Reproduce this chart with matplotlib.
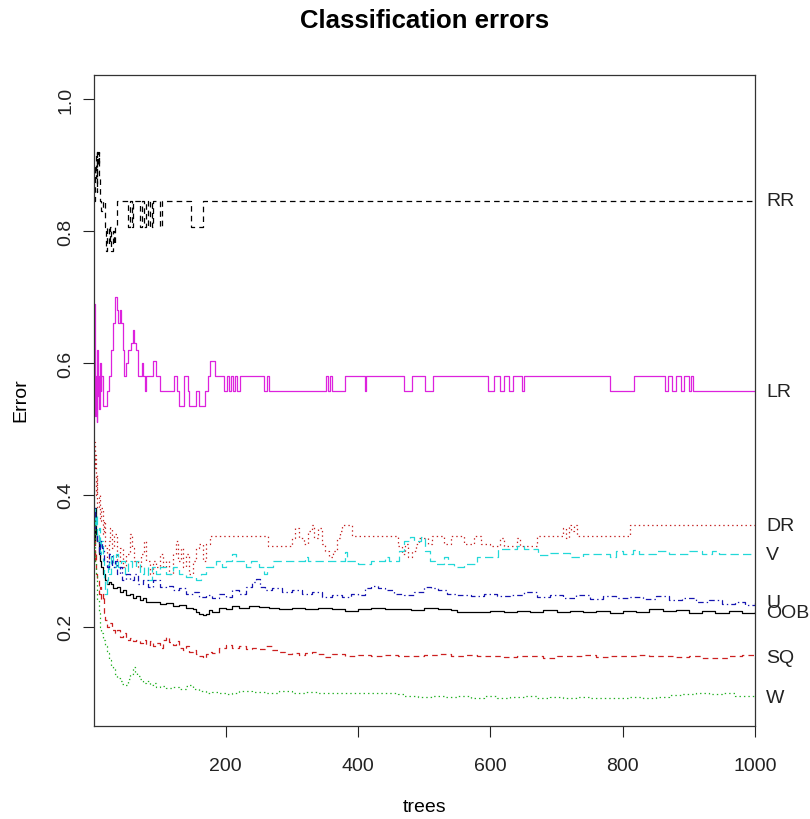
import matplotlib
matplotlib.use("Agg")
import matplotlib.pyplot as plt

plt.rcParams['font.family'] = ['Liberation Sans', 'DejaVu Sans']
plt.rcParams['lines.scale_dashes'] = False

# Datos: (arbol, error) en los puntos de cambio
rr_t = [1, 2, 3, 4, 5, 6, 7, 8, 9, 10, 12, 14, 17, 19, 21, 23, 25, 27, 29, 31, 33, 35,
        52, 55, 58, 60, 70, 73, 76, 79, 82, 85, 88, 90, 100, 104, 148, 166, 1000]
rr_v = [0.846, 0.90, 0.88, 0.92, 0.86, 0.92, 0.90, 0.92, 0.88, 0.846, 0.83, 0.846, 0.807, 0.77,
        0.807, 0.78, 0.807, 0.77, 0.80, 0.78, 0.807, 0.846,
        0.807, 0.846, 0.807, 0.846, 0.807, 0.846, 0.807, 0.846, 0.807, 0.846, 0.807, 0.846,
        0.807, 0.846, 0.807, 0.846, 0.846]

lr_t = [1, 2, 3, 4, 5, 6, 7, 8, 9, 10, 11, 12, 14, 21, 23, 26, 29, 33, 36, 38, 40, 42, 45, 47,
        50, 53, 57, 60, 62, 65, 68, 73, 75, 78, 80, 90, 95, 101, 122, 126, 129, 137, 143, 145,
        155, 160, 168, 173, 176, 184, 198, 202, 205, 208, 211, 214, 217, 222, 258, 262, 265,
        352, 355, 357, 360, 380, 410, 412, 470, 482, 501, 513, 597, 605, 615, 620, 628, 634,
        648, 651, 781, 817, 863, 868, 875, 880, 888, 893, 900, 903, 906, 1000]
lr_v = [0.69, 0.60, 0.52, 0.58, 0.51, 0.62, 0.55, 0.58, 0.53, 0.60, 0.557, 0.58, 0.535, 0.557,
        0.58, 0.62, 0.66, 0.70, 0.68, 0.66, 0.68, 0.66, 0.62, 0.58,
        0.60, 0.62, 0.63, 0.65, 0.63, 0.62, 0.58, 0.60, 0.58, 0.557, 0.58, 0.603, 0.58, 0.557,
        0.58, 0.557, 0.535, 0.58, 0.557, 0.535,
        0.557, 0.535, 0.557, 0.58, 0.603, 0.58, 0.557, 0.58, 0.557, 0.58, 0.557, 0.58, 0.557,
        0.58, 0.557, 0.58, 0.557,
        0.58, 0.557, 0.58, 0.557, 0.58, 0.557, 0.58, 0.557, 0.58, 0.557, 0.58, 0.557, 0.58,
        0.557, 0.58, 0.557, 0.58,
        0.557, 0.58, 0.557, 0.58, 0.557, 0.58, 0.557, 0.58, 0.557, 0.58, 0.557, 0.58, 0.557, 0.557]

dr_t = [1, 2, 3, 4, 5, 6, 8, 10, 12, 14, 16, 18, 20, 23, 25, 28, 31, 35, 40, 45, 50, 55, 58,
        62, 68, 72, 76, 80, 85, 90, 95, 100, 105, 110, 115, 120, 125, 128, 132, 136, 140, 145,
        150, 155, 160, 166, 170, 176, 264, 300, 305, 310, 318, 325, 330, 334, 340, 345, 350,
        356, 362, 368, 372, 376, 391, 461, 466, 471, 476, 482, 488, 492, 505, 512, 530, 540,
        560, 575, 585, 600, 615, 620, 640, 645, 670, 710, 714, 718, 722, 726, 731, 811, 1000]
dr_v = [0.48, 0.44, 0.46, 0.40, 0.43, 0.38, 0.40, 0.36, 0.38, 0.34, 0.36, 0.32, 0.30, 0.33,
        0.35, 0.32, 0.34, 0.30, 0.32, 0.29, 0.31, 0.34, 0.32,
        0.30, 0.29, 0.31, 0.33, 0.30, 0.28, 0.30, 0.29, 0.31, 0.29, 0.30, 0.28, 0.31, 0.33,
        0.30, 0.32, 0.29, 0.31, 0.28,
        0.30, 0.32, 0.325, 0.30, 0.325, 0.337, 0.322, 0.335, 0.35, 0.335, 0.325, 0.345, 0.354,
        0.335, 0.35, 0.325, 0.315,
        0.305, 0.315, 0.335, 0.345, 0.354, 0.337, 0.322, 0.31, 0.325, 0.305, 0.315, 0.325,
        0.335, 0.325, 0.337, 0.325, 0.337,
        0.325, 0.337, 0.325, 0.322, 0.335, 0.322, 0.335, 0.322, 0.337, 0.35, 0.335, 0.354,
        0.345, 0.354, 0.337, 0.354, 0.354]

v_t = [1, 2, 3, 4, 6, 8, 10, 12, 14, 16, 18, 20, 22, 24, 26, 30, 34, 38, 42, 48, 52, 58, 64,
       70, 76, 82, 88, 95, 100, 110, 120, 130, 140, 155, 162, 170, 185, 195, 200, 210, 215,
       230, 238, 250, 258, 262, 272, 310, 320, 325, 380, 384, 400, 420, 440, 446, 462, 470,
       478, 485, 495, 501, 508, 516, 530, 536, 545, 560, 580, 612, 640, 650, 672, 690, 720,
       740, 780, 790, 800, 815, 825, 850, 870, 900, 920, 935, 945, 1000]
v_v = [0.36, 0.38, 0.35, 0.37, 0.33, 0.35, 0.31, 0.33, 0.30, 0.27, 0.25, 0.27, 0.30, 0.28,
       0.31, 0.29, 0.31, 0.29, 0.30, 0.28, 0.30, 0.29, 0.30,
       0.28, 0.29, 0.27, 0.29, 0.28, 0.29, 0.28, 0.29, 0.28, 0.275, 0.27, 0.28, 0.29, 0.30,
       0.29, 0.30, 0.31, 0.30,
       0.29, 0.30, 0.29, 0.28, 0.29, 0.30, 0.30, 0.305, 0.30, 0.313, 0.30, 0.295, 0.30,
       0.305, 0.30, 0.315, 0.33,
       0.336, 0.33, 0.336, 0.315, 0.30, 0.295, 0.305, 0.295, 0.29, 0.295, 0.305, 0.318, 0.322,
       0.318, 0.308, 0.312, 0.306,
       0.31, 0.306, 0.315, 0.31, 0.317, 0.31, 0.315, 0.31, 0.315, 0.31, 0.315, 0.31, 0.31]

u_t = [1, 3, 5, 8, 10, 13, 16, 20, 24, 28, 32, 36, 40, 44, 50, 56, 62, 68, 75, 82, 90, 100,
       110, 120, 130, 140, 150, 160, 170, 180, 190, 200, 210, 220, 230, 240, 246, 252, 260,
       270, 285, 300, 315, 330, 345, 360, 375, 390, 400, 410, 420, 430, 440, 455, 470, 485,
       500, 510, 520, 535, 550, 570, 590, 610, 630, 650, 670, 690, 710, 730, 750, 770, 790,
       810, 830, 850, 870, 890, 910, 930, 950, 970, 985, 1000]
u_v = [0.38, 0.34, 0.33, 0.31, 0.33, 0.32, 0.30, 0.29, 0.31, 0.29, 0.30, 0.28, 0.29, 0.27,
       0.28, 0.27, 0.28, 0.265, 0.27, 0.26, 0.27, 0.26,
       0.262, 0.255, 0.258, 0.25, 0.252, 0.245, 0.248, 0.243, 0.25, 0.245, 0.255, 0.25, 0.26,
       0.268, 0.272, 0.26, 0.255,
       0.258, 0.252, 0.255, 0.25, 0.252, 0.245, 0.248, 0.245, 0.25, 0.248, 0.258, 0.262,
       0.258, 0.255, 0.25, 0.248, 0.252,
       0.26, 0.258, 0.255, 0.25, 0.248, 0.246, 0.25, 0.247, 0.248, 0.252, 0.245, 0.248,
       0.244, 0.248, 0.242, 0.246, 0.243,
       0.245, 0.242, 0.246, 0.24, 0.244, 0.238, 0.24, 0.235, 0.238, 0.233, 0.237]

oob_t = [1, 2, 3, 4, 6, 8, 10, 12, 14, 17, 20, 23, 27, 30, 35, 40, 45, 50, 55, 60, 65, 70, 75,
         80, 90, 100, 110, 120, 130, 140, 150, 155, 160, 165, 170, 175, 180, 190, 200, 210,
         220, 235, 250, 265, 280, 300, 320, 340, 360, 380, 400, 420, 440, 460, 480, 500, 520,
         540, 550, 580, 600, 620, 640, 660, 680, 700, 720, 740, 760, 780, 800, 820, 840, 860,
         880, 900, 920, 940, 960, 980, 1000]
oob_v = [0.36, 0.33, 0.38, 0.34, 0.33, 0.31, 0.30, 0.29, 0.28, 0.27, 0.265, 0.268, 0.264,
         0.258, 0.26, 0.252, 0.255, 0.248, 0.25, 0.244, 0.246, 0.24, 0.243,
         0.237, 0.238, 0.235, 0.236, 0.232, 0.233, 0.228, 0.226, 0.222, 0.219, 0.217, 0.219,
         0.225, 0.222, 0.228, 0.226, 0.231,
         0.229, 0.232, 0.23, 0.229, 0.227, 0.229, 0.227, 0.228, 0.226, 0.224, 0.227, 0.228,
         0.226, 0.227, 0.225, 0.228, 0.227,
         0.225, 0.222, 0.222, 0.224, 0.222, 0.223, 0.222, 0.225, 0.222, 0.224, 0.222, 0.223,
         0.221, 0.224, 0.222, 0.226, 0.223,
         0.225, 0.221, 0.223, 0.221, 0.223, 0.221, 0.222]

sq_t = [1, 2, 3, 4, 6, 8, 10, 12, 14, 16, 18, 20, 24, 28, 32, 36, 40, 45, 50, 55, 60, 65, 70,
        75, 80, 85, 90, 95, 100, 105, 110, 115, 120, 125, 130, 135, 140, 145, 150, 155, 160,
        165, 170, 175, 180, 190, 200, 210, 220, 230, 240, 250, 260, 270, 280, 290, 300, 310,
        320, 330, 340, 350, 360, 380, 400, 420, 440, 460, 480, 500, 520, 540, 560, 580, 600,
        620, 640, 660, 680, 700, 720, 740, 760, 780, 800, 820, 840, 860, 880, 900, 920, 940,
        960, 980, 1000]
sq_v = [0.33, 0.30, 0.31, 0.28, 0.27, 0.25, 0.26, 0.24, 0.25, 0.22, 0.21, 0.20, 0.205, 0.195,
        0.19, 0.195, 0.185, 0.19, 0.18, 0.183, 0.178, 0.18, 0.175,
        0.18, 0.172, 0.178, 0.17, 0.175, 0.168, 0.18, 0.185, 0.176, 0.172, 0.178, 0.168, 0.165,
        0.17, 0.162, 0.165, 0.158, 0.155,
        0.152, 0.158, 0.162, 0.16, 0.168, 0.172, 0.168, 0.17, 0.166, 0.168, 0.166, 0.17, 0.165,
        0.162, 0.158, 0.16, 0.157,
        0.16, 0.162, 0.158, 0.154, 0.158, 0.156, 0.157, 0.155, 0.157, 0.156, 0.155, 0.157,
        0.158, 0.156, 0.157, 0.155, 0.156,
        0.154, 0.156, 0.155, 0.153, 0.156, 0.155, 0.157, 0.154, 0.156, 0.155, 0.157, 0.156,
        0.155, 0.154, 0.156, 0.153, 0.152,
        0.155, 0.157, 0.153]

w_t = [1, 2, 3, 4, 5, 6, 8, 10, 12, 15, 18, 21, 24, 27, 30, 33, 36, 40, 44, 48, 52, 56, 60,
       63, 66, 70, 75, 80, 85, 90, 95, 100, 110, 120, 130, 140, 145, 150, 160, 170, 180, 190,
       200, 210, 220, 240, 260, 280, 300, 320, 340, 360, 380, 400, 420, 440, 460, 470, 490,
       510, 530, 550, 570, 590, 610, 630, 650, 670, 690, 710, 730, 750, 770, 790, 810, 830,
       850, 870, 890, 910, 930, 950, 970, 985, 1000]
w_v = [0.36, 0.34, 0.30, 0.28, 0.26, 0.24, 0.22, 0.20, 0.19, 0.18, 0.17, 0.16, 0.15, 0.14,
       0.135, 0.128, 0.122, 0.118, 0.113, 0.112, 0.12, 0.128, 0.138,
       0.13, 0.125, 0.12, 0.115, 0.118, 0.112, 0.114, 0.108, 0.11, 0.107, 0.108, 0.105, 0.11,
       0.112, 0.105, 0.102, 0.1, 0.101, 0.1,
       0.097, 0.1, 0.102, 0.101, 0.1, 0.102, 0.1, 0.101, 0.099, 0.1, 0.099, 0.1, 0.099, 0.1,
       0.098, 0.094, 0.093,
       0.094, 0.093, 0.095, 0.092, 0.094, 0.092, 0.093, 0.095, 0.092, 0.093, 0.092, 0.093,
       0.092, 0.091, 0.092, 0.093, 0.091,
       0.093, 0.096, 0.098, 0.1, 0.097, 0.099, 0.095, 0.094, 0.092]

series = [
    ('OOB', oob_t, oob_v, 'black', '-'),
    ('RR', rr_t, rr_v, 'black', (0, (4, 3))),
    ('LR', lr_t, lr_v, '#dd22dd', '-'),
    ('DR', dr_t, dr_v, '#c42222', (0, (1, 2.2))),
    ('V', v_t, v_v, '#22d8d8', (0, (6, 3))),
    ('U', u_t, u_v, '#1515b0', (0, (1, 2.2, 4, 2.2))),
    ('SQ', sq_t, sq_v, '#cc2020', (0, (4, 3))),
    ('W', w_t, w_v, '#22b022', (0, (1, 2.2))),
]

fig = plt.figure(figsize=(8.1, 8.2), dpi=100)
ax = fig.add_axes([94 / 810, 1 - 727 / 820, 661.2 / 810, 651.2 / 820])

for nombre, t, v, color, estilo in series:
    ax.plot(t, v, drawstyle='steps-post', color=color, linestyle=estilo, linewidth=0.9)
    ax.text(1.0166, v[-1], nombre, transform=ax.get_yaxis_transform(),
            ha='left', va='center', fontsize=14, color='#222222')

ax.set_xlim(1, 1000)
ax.set_ylim(0.0492, 1.0373)
ax.set_xticks([200, 400, 600, 800, 1000])
ax.set_yticks([0.2, 0.4, 0.6, 0.8, 1.0])
ax.set_yticklabels(['0.2', '0.4', '0.6', '0.8', '1.0'], rotation=90, va='center')
ax.tick_params(axis='both', direction='out', length=8, width=0.8, labelsize=14,
               colors='#222222')
ax.tick_params(axis='x', pad=14)
ax.tick_params(axis='y', pad=6)
for s in ax.spines.values():
    s.set_linewidth(0.9)
    s.set_color('#333333')

fig.text(424.6 / 810, 1 - 21.5 / 820, 'Classification errors', ha='center', va='center',
         fontsize=18.5, fontweight='bold')
fig.text(424.6 / 810, 1 - 808 / 820, 'trees', ha='center', va='center', fontsize=14)
fig.text(20.7 / 810, 1 - 400 / 820, 'Error', ha='center', va='center', fontsize=14,
         rotation=90)

plt.savefig('out.png', dpi=100)
